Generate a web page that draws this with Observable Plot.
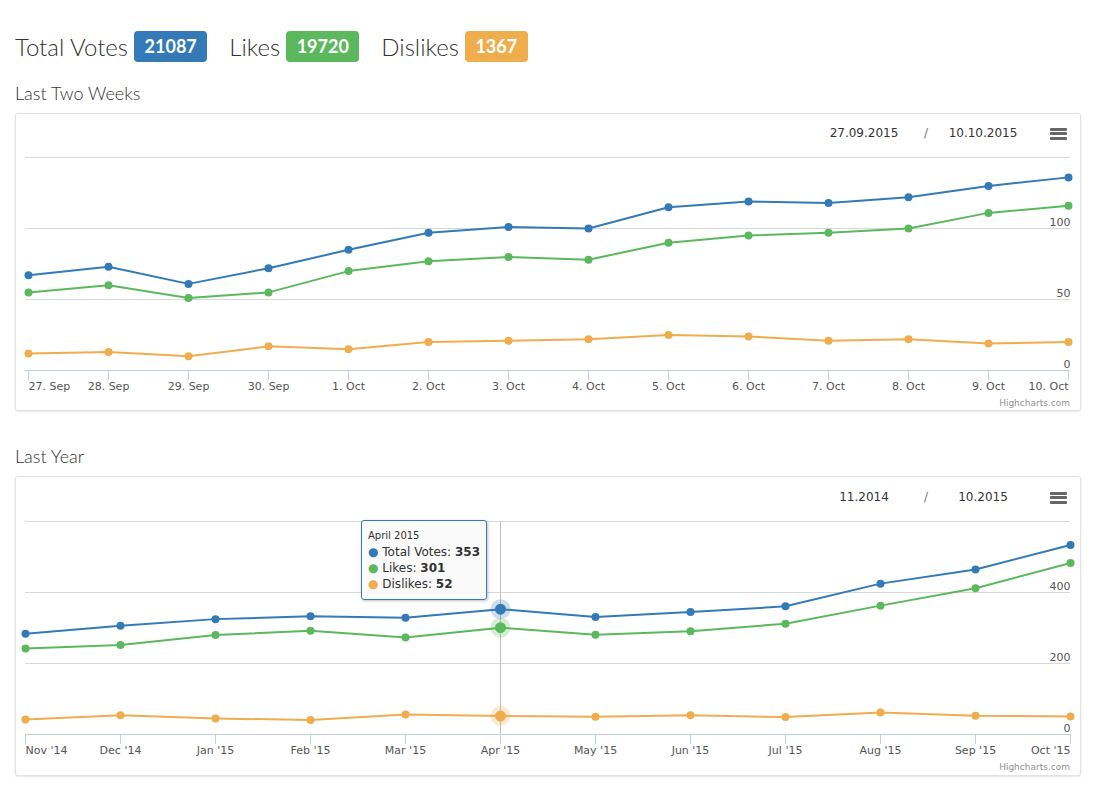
<!DOCTYPE html>
<html><head><meta charset="utf-8">
<script src="https://cdn.jsdelivr.net/npm/d3@7"></script>
<script src="https://cdn.jsdelivr.net/npm/@observablehq/plot@0.6"></script>
<style>
body{margin:0;background:#fff;font-family:Lato,sans-serif;color:#333;}
#page{position:relative;width:1096px;height:789px;overflow:hidden;}
.hdr{position:absolute;left:15px;top:30.5px;height:31px;display:flex;align-items:center;font-size:24px;font-weight:300;color:#333;white-space:nowrap;}
.hdr .lbl{margin-right:6px;}
.badge{display:inline-block;color:#fff;font-weight:700;font-size:18px;height:31px;line-height:31px;padding:0 10.5px;border-radius:4px;margin-right:22px;}
.sect{position:absolute;left:15px;font-size:18px;font-weight:300;color:#333;line-height:20px;}
.card{position:absolute;left:15px;width:1066px;box-sizing:border-box;border:1px solid #e2e2e2;border-radius:3px;box-shadow:0 1px 2px rgba(0,0,0,.10);background:#fff;}
.card svg{position:absolute;left:0;top:0;}
.rng{position:absolute;font-family:"DejaVu Sans",sans-serif;font-size:12px;color:#333;transform:translate(-50%,-50%);white-space:nowrap;}
.menu{position:absolute;left:1034px;width:17px;height:3px;background:#666;border-radius:1px;}
.credit{position:absolute;right:10px;font-family:"DejaVu Sans",sans-serif;font-size:9px;color:#909090;line-height:11px;}
.tip{position:absolute;width:126px;height:80px;box-sizing:border-box;background:rgba(249,249,249,0.9);border:1px solid #337ab7;border-radius:3px;box-shadow:1px 1px 3px rgba(0,0,0,.25);padding:7px 6px;font-family:"DejaVu Sans",sans-serif;font-size:12px;color:#333;line-height:16px;white-space:nowrap;}
.tip .h{font-size:10px;}
</style></head>
<body><div id="page"></div>
<script>
// ---- data ----
const seriesNames = ["Total Votes", "Likes", "Dislikes"];
const seriesColors = ["#337ab7", "#5cb85c", "#f0ad4e"];
const summaryValues = [21087, 19720, 1367];

const weekDays = ["27. Sep","28. Sep","29. Sep","30. Sep","1. Oct","2. Oct","3. Oct","4. Oct","5. Oct","6. Oct","7. Oct","8. Oct","9. Oct","10. Oct"];
const weekTotal = [67, 73, 61, 72, 85, 97, 101, 100, 115, 119, 118, 122, 130, 136];
const weekLikes = [55, 60, 51, 55, 70, 77, 80, 78, 90, 95, 97, 100, 111, 116];
const weekDislikes = [12, 13, 10, 17, 15, 20, 21, 22, 25, 24, 21, 22, 19, 20];
const weekTicks = [0, 50, 100];
const weekGrid = [50, 100, 150];
const weekRange = ["27.09.2015", "10.10.2015"];

const months = ["Nov '14","Dec '14","Jan '15","Feb '15","Mar '15","Apr '15","May '15","Jun '15","Jul '15","Aug '15","Sep '15","Oct '15"];
const monthNames = ["November 2014","December 2014","January 2015","February 2015","March 2015","April 2015","May 2015","June 2015","July 2015","August 2015","September 2015","October 2015"];
const yearTotal = [284, 306, 325, 333, 329, 353, 331, 345, 361, 425, 465, 534];
const yearLikes = [242, 252, 280, 292, 273, 301, 281, 291, 312, 363, 412, 483];
const yearDislikes = [42, 54, 45, 41, 56, 52, 50, 54, 49, 62, 53, 51];
const yearTicks = [0, 200, 400];
const yearGrid = [200, 400, 600];
const yearRange = ["11.2014", "10.2015"];
const hoverIndex = 5;

// ---- layout ----
const page = document.getElementById("page");
const hdr = document.createElement("div");
hdr.className = "hdr";
seriesNames.forEach((n, i) => {
  const l = document.createElement("span"); l.className = "lbl"; l.textContent = n; hdr.appendChild(l);
  const b = document.createElement("span"); b.className = "badge"; b.style.background = seriesColors[i]; b.textContent = summaryValues[i]; hdr.appendChild(b);
});
page.appendChild(hdr);

function section(title, titleTop, cardTop, cardH) {
  const t = document.createElement("div"); t.className = "sect"; t.style.top = titleTop + "px"; t.textContent = title; page.appendChild(t);
  const c = document.createElement("div"); c.className = "card"; c.style.top = cardTop + "px"; c.style.height = cardH + "px"; page.appendChild(c);
  return c;
}

function chart(card, {labels, values, grid, ticks, yMax, height, mt, mb, hover, range, rangeY, creditTop}) {
  const marks = [
    Plot.gridY(grid, {stroke: "#d8d8d8", strokeOpacity: 1}),
    Plot.ruleY([0], {stroke: "#c0d0e0"}),
    Plot.axisY(ticks, {anchor: "right", tickSize: 0, tickPadding: 0, textAnchor: "end", dy: -6.5, fill: "#555", label: null}),
    Plot.axisX(labels.slice(1, -1), {tickSize: 10, tickPadding: 2, stroke: "#c0d0e0", fill: "#555", label: null}),
    Plot.axisX([labels[0]], {tickSize: 10, tickPadding: 2, stroke: "#c0d0e0", fill: "#555", textAnchor: "start", label: null}),
    Plot.axisX([labels[labels.length - 1]], {tickSize: 10, tickPadding: 2, stroke: "#c0d0e0", fill: "#555", textAnchor: "end", label: null})
  ];
  if (hover != null) marks.push(Plot.ruleX([labels[hover]], {stroke: "#c0c0c0"}));
  values.forEach((v, si) => {
    marks.push(Plot.line(labels, {x: d => d, y: (d, i) => v[i], stroke: seriesColors[si], strokeWidth: 2}));
    marks.push(Plot.dot(labels, {x: d => d, y: (d, i) => v[i], fill: seriesColors[si], r: 4}));
  });
  if (hover != null) values.forEach((v, si) => {
    marks.push(Plot.dot([labels[hover]], {x: d => d, y: () => v[hover], fill: seriesColors[si], fillOpacity: 0.25, r: 10}));
    marks.push(Plot.dot([labels[hover]], {x: d => d, y: () => v[hover], fill: seriesColors[si], r: 5.5}));
  });
  const svg = Plot.plot({
    width: 1064, height, marginLeft: 9, marginRight: 10, marginTop: mt, marginBottom: mb,
    x: {type: "point", domain: labels, padding: 0},
    y: {domain: [0, yMax]},
    style: {fontFamily: "DejaVu Sans", fontSize: "11px", background: "transparent", overflow: "visible"},
    marks
  });
  card.appendChild(svg);
  [[range[0], 848], ["/", 910], [range[1], 967]].forEach(([s, x]) => {
    const r = document.createElement("div"); r.className = "rng"; r.textContent = s;
    r.style.left = x + "px"; r.style.top = rangeY + "px";
    if (s === "/") r.style.color = "#777";
    card.appendChild(r);
  });
  [0, 4.4, 8.8].forEach(o => {
    const m = document.createElement("div"); m.className = "menu"; m.style.top = (rangeY - 5 + o) + "px"; card.appendChild(m);
  });
  const cr = document.createElement("div"); cr.className = "credit"; cr.textContent = "Highcharts.com"; cr.style.top = creditTop + "px"; card.appendChild(cr);
  return svg;
}

const card1 = section("Last Two Weeks", 83, 113, 298);
chart(card1, {labels: weekDays, values: [weekTotal, weekLikes, weekDislikes], grid: weekGrid, ticks: weekTicks, yMax: 150,
  height: 296, mt: 43, mb: 40, hover: null, range: weekRange, rangeY: 19, creditTop: 284});

const card2 = section("Last Year", 446, 476, 300);
const c2 = chart(card2, {labels: months, values: [yearTotal, yearLikes, yearDislikes], grid: yearGrid, ticks: yearTicks, yMax: 600,
  height: 298, mt: 44, mb: 41, hover: hoverIndex, range: yearRange, rangeY: 20, creditTop: 285});

// tooltip
const xs = c2.scale("x"), ys = c2.scale("y");
const tip = document.createElement("div"); tip.className = "tip";
const vals = [yearTotal, yearLikes, yearDislikes];
tip.innerHTML = `<div class="h">${monthNames[hoverIndex]}</div>` + seriesNames.map((n, i) =>
  `<div><span style="color:${seriesColors[i]}">\u25CF</span> ${n}: <b>${vals[i][hoverIndex]}</b></div>`).join("");
tip.style.left = (xs.apply(months[hoverIndex]) - 13 - 126) + "px";
tip.style.top = (ys.apply(600) - 1) + "px";
card2.appendChild(tip);
</script>
</body></html>
